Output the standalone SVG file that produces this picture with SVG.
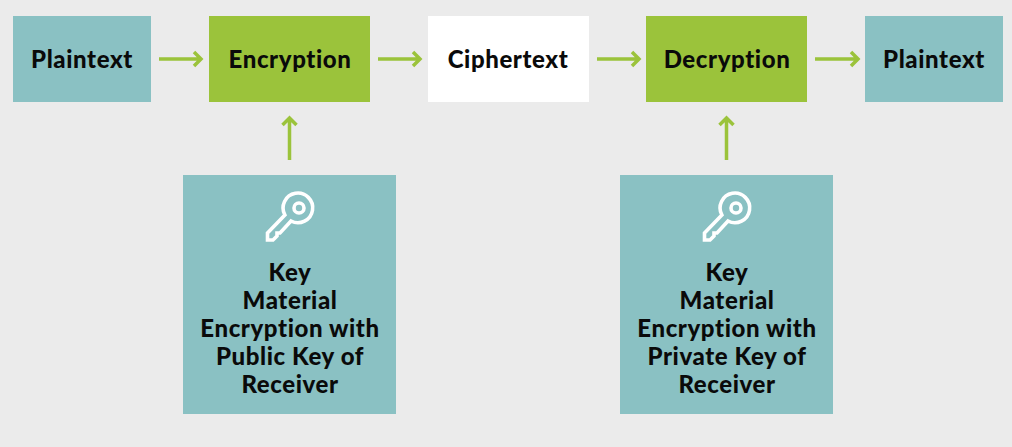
<svg xmlns="http://www.w3.org/2000/svg" width="1012" height="447" viewBox="0 0 1012 447">
<style>
.t{fill:#8ac1c3}.g{fill:#9bc33b}.w{fill:#fff}
text{font-family:"Lato","Liberation Sans",sans-serif;font-weight:900;font-size:24px;letter-spacing:.6px;fill:#0a0a0a;text-anchor:middle}
.c{fill:none;stroke:#9bc33b;stroke-width:3.5}
.k{fill:none;stroke:#fff;stroke-width:3.6;stroke-linejoin:miter}
</style>
<defs>
<g id="key"><circle class="k" cx="299" cy="208" r="5"/><path class="k" d="M284.9 215L267.500 233V240H273L277 236V233H280L291 221A14.800 14.800 0 1 0 284.900 215Z"/></g>
</defs>
<rect width="1012" height="447" fill="#ebebeb"/>
<g id="connectors">
<path class="c" d="M159 59H200M194 52L201 59L194 66"/>
<path class="c" d="M378 59H419M413 52L420 59L413 66"/>
<path class="c" d="M597 59H638M632 52L639 59L632 66"/>
<path class="c" d="M815 59H857M851 52L858 59L851 66"/>
<path class="c" d="M289.500 160V120M282.500 125L289.500 118L296.500 125"/>
<path class="c" d="M726.500 160V120M719.500 125L726.500 118L733.500 125"/>
</g>
<g id="plaintext1"><rect class="t" x="13" y="16" width="138" height="86"/><text x="82" y="68">Plaintext</text></g>
<g id="encryption"><rect class="g" x="209" y="16" width="161" height="86"/><text x="290" y="68">Encryption</text></g>
<g id="ciphertext"><rect class="w" x="428" y="16" width="161" height="86"/><text x="508" y="68">Ciphertext</text></g>
<g id="decryption"><rect class="g" x="646" y="16" width="161" height="86"/><text x="727" y="68">Decryption</text></g>
<g id="plaintext2"><rect class="t" x="865" y="16" width="138" height="86"/><text x="934" y="68">Plaintext</text></g>
<g id="key-public"><rect class="t" x="183" y="175" width="213" height="239"/>
<use href="#key"/>
<text x="290" y="281">Key</text><text x="290" y="309">Material</text><text x="290" y="337">Encryption with</text><text x="290" y="365">Public Key of</text><text x="290" y="393">Receiver</text></g>
<g id="key-private"><rect class="t" x="620" y="175" width="213" height="239"/>
<use href="#key" x="437"/>
<text x="727" y="281">Key</text><text x="727" y="309">Material</text><text x="727" y="337">Encryption with</text><text x="727" y="365">Private Key of</text><text x="727" y="393">Receiver</text></g>
</svg>
